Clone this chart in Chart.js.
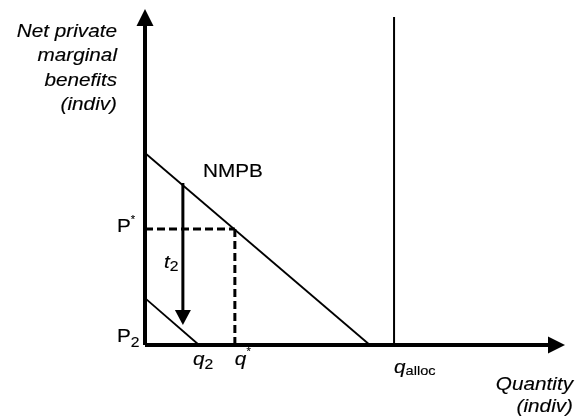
<!DOCTYPE html>
<html>
<head>
<meta charset="utf-8">
<script src="https://cdn.jsdelivr.net/npm/chart.js@4.4.0/dist/chart.umd.min.js"></script>
<style>
  body { margin: 0; background: #fff; }
  #wrap { width: 579px; height: 419px; }
</style>
</head>
<body>
<div id="wrap"><canvas id="evoChart" width="579" height="419"></canvas></div>
<script>
// values (axes run 0..100 up to the arrow heads)
const nmpbX = [0, 55.8];
const nmpbY = [60.2, 0];
const taxedX = [0, 13.4];
const taxedY = [14.7, 0];
const pStar = 36.4;
const qStar = 22.3;
const q2 = 13.4;
const qAlloc = 61.8;
const qAllocTop = 102.8;
const taxX = 9.4;
const taxY = [50.8, 6.3];

const pts = (xs, ys) => xs.map((x, i) => ({ x: x, y: ys[i] }));

const FONT = '"Liberation Sans", Arial, sans-serif';
const SX = 1.12; // the source text is a bit stretched sideways

function txt(ctx, s, x, y, size, italic, align) {
  ctx.save();
  ctx.font = (italic ? 'italic ' : '') + size + 'px ' + FONT;
  ctx.translate(x, y);
  ctx.scale(SX, 1);
  ctx.textAlign = align || 'left';
  ctx.textBaseline = 'alphabetic';
  ctx.fillText(s, 0, 0);
  // a hairline stroke to get the slightly heavier look of the source
  ctx.lineWidth = 0.15;
  ctx.strokeStyle = '#000';
  ctx.strokeText(s, 0, 0);
  const w = ctx.measureText(s).width * SX;
  ctx.restore();
  return w;
}

function head(ctx, tx, ty, dir, w, h) {
  // filled triangle, tip at (tx, ty)
  ctx.beginPath();
  if (dir === 'up') {
    ctx.moveTo(tx, ty); ctx.lineTo(tx - w / 2, ty + h); ctx.lineTo(tx + w / 2, ty + h);
  } else if (dir === 'down') {
    ctx.moveTo(tx, ty); ctx.lineTo(tx - w / 2, ty - h); ctx.lineTo(tx + w / 2, ty - h);
  } else {
    ctx.moveTo(tx, ty); ctx.lineTo(tx - h, ty - w / 2); ctx.lineTo(tx - h, ty + w / 2);
  }
  ctx.closePath();
  ctx.fill();
}

const labels = {
  id: 'labels',
  afterDatasetsDraw(chart) {
    const ctx = chart.ctx;
    const xs = chart.scales.x, ys = chart.scales.y;
    const X = v => xs.getPixelForValue(v), Y = v => ys.getPixelForValue(v);
    ctx.save();
    ctx.fillStyle = '#000';

    // axis arrow heads
    head(ctx, X(0), Y(100) - 17, 'up', 17, 17);
    head(ctx, X(100) + 17, Y(0), 'right', 17, 17);
    // tax arrow head (the shaft stops at its base)
    head(ctx, X(taxX), Y(taxY[1]), 'down', 16, 15);

    // y axis title
    const yl = ['Net private', 'marginal', 'benefits', '(indiv)'];
    yl.forEach((s, i) => txt(ctx, s, X(0) - 28, 37 + i * 24.4, 18.5, true, 'right'));

    // x axis title
    txt(ctx, 'Quantity', 573, 390, 18.5, true, 'right');
    txt(ctx, '(indiv)', 573, 412, 18.5, true, 'right');

    // curve label
    txt(ctx, 'NMPB', X(14.4), Y(nmpbY[0]) + 24, 18.5, false);

    // price labels
    let w = txt(ctx, 'P', X(0) - 28, Y(pStar) + 3, 18.5, false);
    txt(ctx, '*', X(0) - 28 + w, Y(pStar) - 6, 10, false);
    w = txt(ctx, 'P', X(0) - 28, Y(0) - 3, 18.5, false);
    txt(ctx, '2', X(0) - 28 + w, Y(0) + 2, 14, false);

    // tax label
    w = txt(ctx, 't', X(taxX) - 19, Y(24), 18.5, true);
    txt(ctx, '2', X(taxX) - 19 + w, Y(24) + 3, 14, false);

    // quantity labels
    w = txt(ctx, 'q', X(q2) - 6, Y(0) + 20, 18.5, true);
    txt(ctx, '2', X(q2) - 6 + w, Y(0) + 24, 14, false);
    w = txt(ctx, 'q', X(qStar), Y(0) + 20, 18.5, true);
    txt(ctx, '*', X(qStar) + w, Y(0) + 10, 10, false);
    w = txt(ctx, 'q', X(qAlloc), Y(0) + 28, 18.5, true);
    txt(ctx, 'alloc', X(qAlloc) + w, Y(0) + 30, 13, false);

    ctx.restore();
  }
};

const line = (data, width, dash) => ({
  data: data,
  showLine: true,
  borderColor: '#000',
  borderWidth: width,
  borderDash: dash || [],
  pointRadius: 0,
  clip: false
});

new Chart('evoChart', {
  type: 'scatter',
  data: {
    datasets: [
      line(pts([0, 0], [0, 100]), 4),
      line(pts([0, 100], [0, 0]), 4),
      line(pts(nmpbX, nmpbY), 1.8),
      line(pts(taxedX, taxedY), 1.8),
      line(pts([0, qStar], [pStar, pStar]), 3, [8, 4]),
      line(pts([qStar, qStar], [pStar, 0]), 3, [8, 4]),
      line(pts([qAlloc, qAlloc], [0, qAllocTop]), 2),
      line(pts([taxX, taxX], [taxY[0], taxY[1] + 4]), 3)
    ]
  },
  options: {
    responsive: false,
    animation: false,
    layout: { padding: { left: 145, right: 31, top: 26, bottom: 74 } },
    plugins: { legend: { display: false }, tooltip: { enabled: false } },
    scales: {
      x: { type: 'linear', min: 0, max: 100, display: false },
      y: { type: 'linear', min: 0, max: 100, display: false }
    }
  },
  plugins: [labels]
});
</script>
</body>
</html>
